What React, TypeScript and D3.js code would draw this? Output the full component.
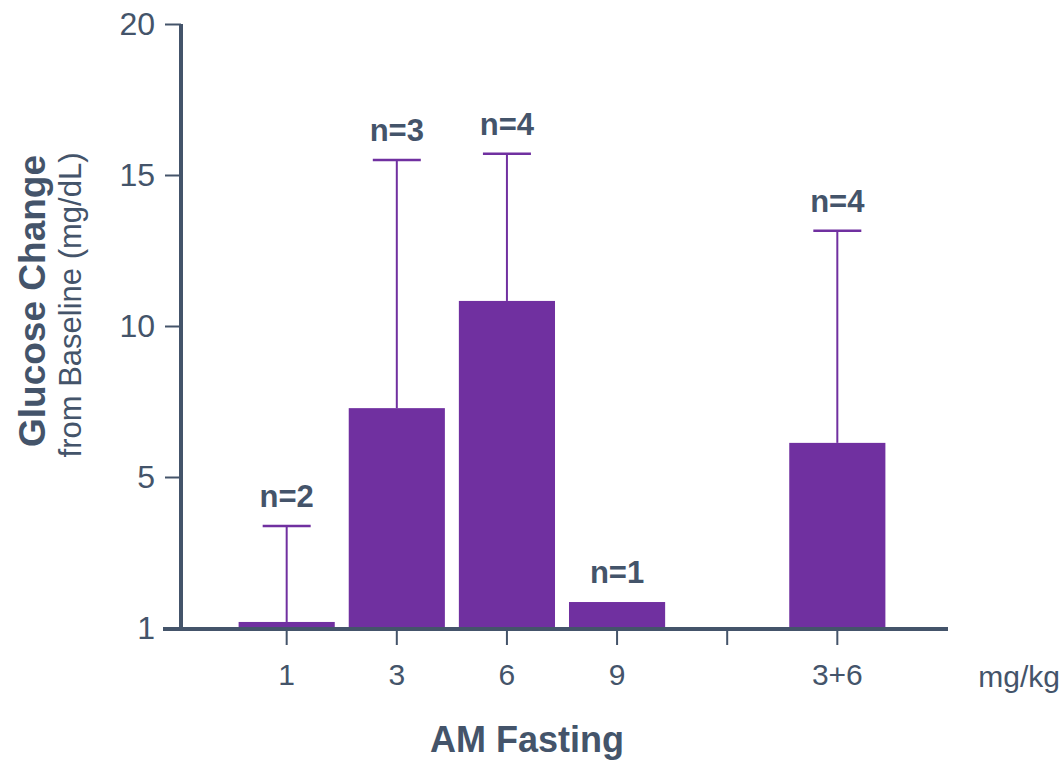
import * as d3 from "d3";
import React, { useEffect, useRef } from "react";

const categories = ["1", "3", "6", "9", "", "3+6"];
const means = [0.2, 7.28, 10.83, 0.86, null, 6.13];
const errTops = [3.38, 15.5, 15.7, null, null, 13.15];
const nLabels = ["n=2", "n=3", "n=4", "n=1", "", "n=4"];
const yTickValues = [0, 5, 10, 15, 20];
const yTickLabels = ["1", "5", "10", "15", "20"];

export default function App() {
  const ref = useRef<SVGSVGElement>(null);

  useEffect(() => {
    const svg = d3.select(ref.current);
    svg.selectAll("*").remove();

    const purple = "#7030a0";
    const slate = "#44546a";
    const font = "Liberation Sans, Arial, sans-serif";

    const keys = categories.map((c, i) => c + "_" + i);

    const x = d3.scaleBand<string>()
      .domain(keys)
      .range([232, 892])
      .paddingInner(0.127)
      .paddingOuter(0.06);

    const y = d3.scaleLinear().domain([0, 20]).range([628, 24]);

    // bars
    svg.append("g").selectAll("rect")
      .data(means.map((m, i) => ({ m, k: keys[i] })).filter(d => d.m !== null))
      .enter().append("rect")
      .attr("x", d => x(d.k)!)
      .attr("width", x.bandwidth())
      .attr("y", d => y(d.m as number))
      .attr("height", d => y(0) - y(d.m as number))
      .attr("fill", purple);

    // error bars
    const eb = svg.append("g");
    errTops.forEach((e, i) => {
      if (e === null) return;
      const cx = x(keys[i])! + x.bandwidth() / 2;
      eb.append("line")
        .attr("x1", cx).attr("x2", cx)
        .attr("y1", y(means[i] as number)).attr("y2", y(e))
        .attr("stroke", purple).attr("stroke-width", 2);
      eb.append("line")
        .attr("x1", cx - 24).attr("x2", cx + 24)
        .attr("y1", y(e)).attr("y2", y(e))
        .attr("stroke", purple).attr("stroke-width", 2.5);
    });

    // n labels
    svg.append("g").selectAll("text")
      .data(nLabels.map((t, i) => ({ t, i })).filter(d => d.t !== ""))
      .enter().append("text")
      .attr("x", d => x(keys[d.i])! + x.bandwidth() / 2)
      .attr("y", d => {
        const top = errTops[d.i] ?? (means[d.i] as number);
        return y(top) - 19;
      })
      .attr("text-anchor", "middle")
      .attr("font-family", font)
      .attr("font-weight", "bold")
      .attr("font-size", 31)
      .attr("fill", slate)
      .text(d => d.t);

    // y axis
    const yAxis = svg.append("g")
      .attr("transform", "translate(181,0)")
      .call(d3.axisLeft(y).tickValues(yTickValues)
        .tickFormat((d, i) => yTickLabels[i])
        .tickSize(16).tickSizeOuter(0).tickPadding(10));
    yAxis.select(".domain").attr("stroke", slate).attr("stroke-width", 4)
      .attr("d", `M0,${y(20)}V${y(0) + 3}`);
    yAxis.selectAll(".tick line").attr("stroke", slate).attr("stroke-width", 2);
    yAxis.selectAll(".tick text")
      .attr("font-family", font).attr("font-size", 32).attr("fill", slate);

    // x axis
    const xAxis = svg.append("g")
      .attr("transform", `translate(0,${y(0) + 1})`)
      .call(d3.axisBottom(x).tickFormat(k => k.split("_")[0])
        .tickSize(16).tickSizeOuter(0).tickPadding(19));
    xAxis.select(".domain").attr("stroke", slate).attr("stroke-width", 4)
      .attr("d", "M163,0H948");
    xAxis.selectAll(".tick line").attr("stroke", slate).attr("stroke-width", 2);
    xAxis.selectAll(".tick text")
      .attr("font-family", font).attr("font-size", 30).attr("fill", slate);

    svg.append("text")
      .attr("x", 1060).attr("y", 687)
      .attr("text-anchor", "end")
      .attr("font-family", font).attr("font-size", 30).attr("fill", slate)
      .text("mg/kg");

    svg.append("text")
      .attr("x", 527).attr("y", 752)
      .attr("text-anchor", "middle")
      .attr("font-family", font).attr("font-weight", "bold")
      .attr("font-size", 36).attr("fill", slate)
      .text("AM Fasting");

    svg.append("text")
      .attr("transform", "translate(45,301) rotate(-90)")
      .attr("text-anchor", "middle")
      .attr("font-family", font).attr("font-weight", "bold")
      .attr("font-size", 37).attr("fill", slate)
      .text("Glucose Change");

    svg.append("text")
      .attr("transform", "translate(81,305) rotate(-90)")
      .attr("text-anchor", "middle")
      .attr("font-family", font)
      .attr("font-size", 31).attr("fill", slate)
      .text("from Baseline (mg/dL)");
  }, []);

  return (
    <svg ref={ref} width={1063} height={761}
      style={{ position: "absolute", left: 0, top: 0, background: "#fff" }} />
  );
}
